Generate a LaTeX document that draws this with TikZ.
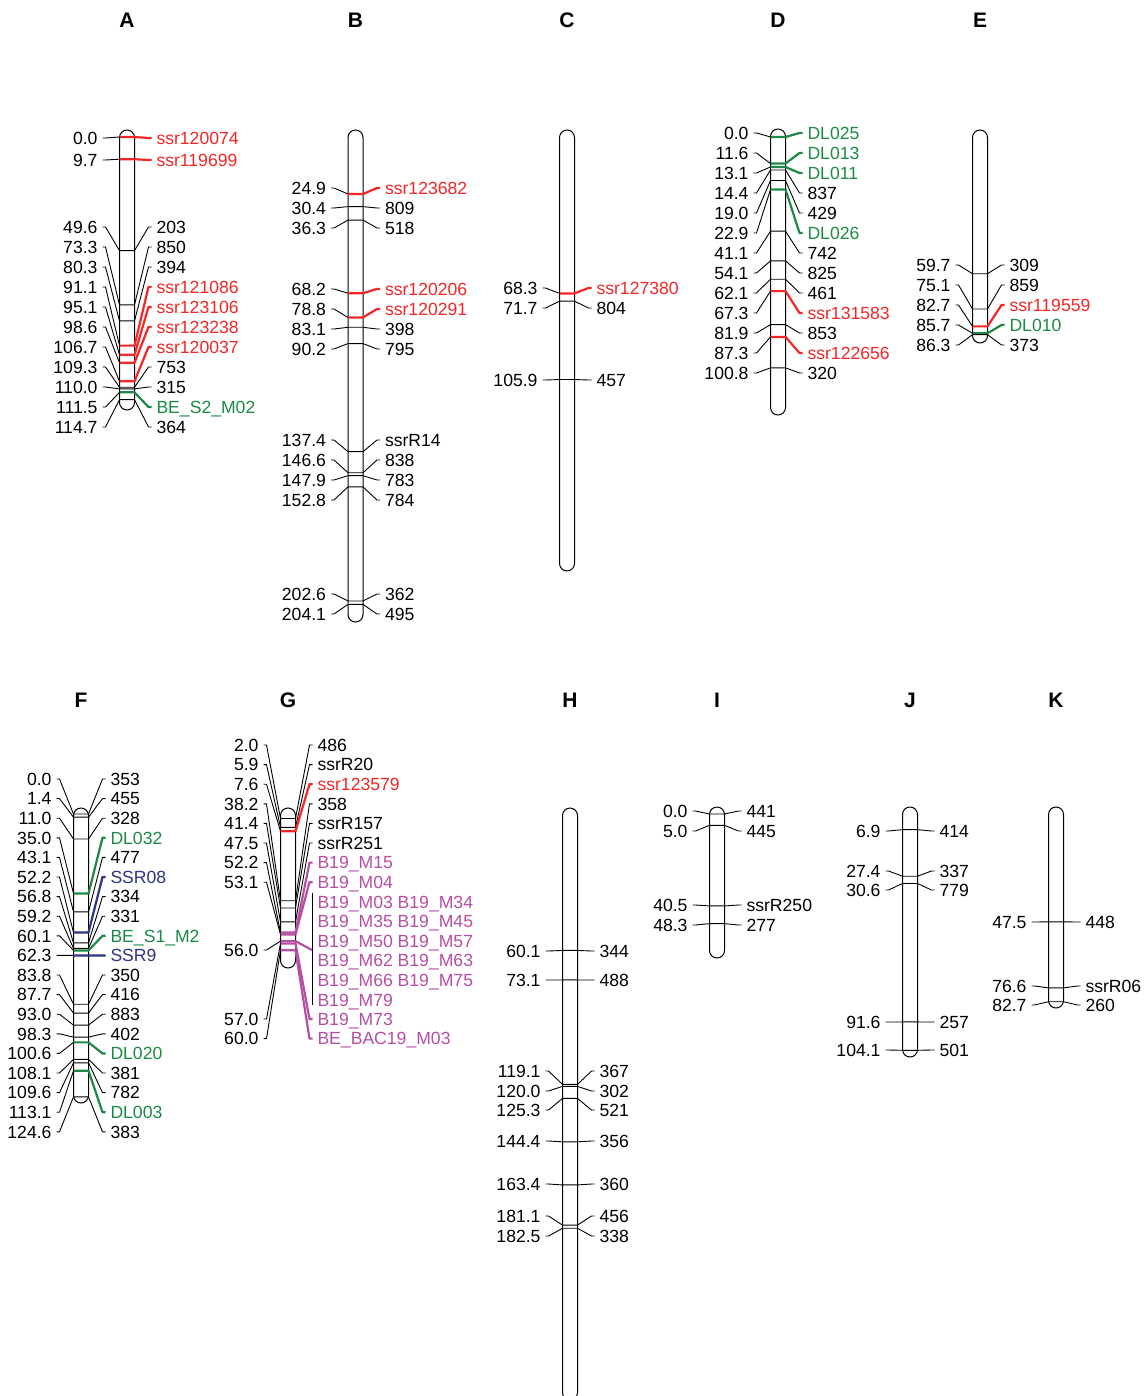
\documentclass[tikz,border=0pt]{standalone}
\usepackage{fontspec}
\setmainfont{Liberation Sans}
\usepackage{tikz}
\definecolor{mapred}{HTML}{F42626}
\definecolor{mapgreen}{HTML}{1C8A45}
\definecolor{mapnavy}{HTML}{2E3488}
\definecolor{mappink}{HTML}{B64FA4}

\newcommand{\lblfont}{\fontsize{17.6}{20}\selectfont}

% chromosome body and its letter: name, centre x, top, bottom
\newcommand{\chrom}[4]{%
  \node[chrombar, minimum height={#4-#3}] (#1) at (#2,{(#3+#4)/2}) {};
  \node[ttl] (t#1) at (#2,\yt) {#1};
}

% one locus: chromosome, index, cM, label y, name, colour key
\newcommand{\locus}[6]{%
  \coordinate (#1-m#2) at (\cx,{\yz+\sc*#3});
  \node[poslbl] (#1-p#2) at (\cx-24.5,#4) {#3};
  \node[namelbl, tk/.expanded=#6] (#1-n#2) at (\cx+24.5,#4) {#5};
  \draw[conn] (#1-p#2.east) -- ++(3,0) -- ([xshift=-7.5pt]#1-m#2);
  \draw[mk/.expanded=#6] ([xshift=-7.5pt]#1-m#2) -- ([xshift=7.5pt]#1-m#2) -- ([xshift=-3pt]#1-n#2.west) -- (#1-n#2.west);
}

\begin{document}
\begin{tikzpicture}[x=1pt, y=-1pt,
  chrombar/.style={draw, fill=white, line width=1pt, minimum width=15pt, inner sep=0pt, rounded corners=7.5pt},
  ttl/.style={font=\fontsize{21}{24}\selectfont\bfseries, inner sep=0pt, text height=15pt, text depth=0pt},
  poslbl/.style={anchor=east, font=\lblfont, inner sep=0pt, outer xsep=5pt, outer ysep=0pt, text height=12.6pt, text depth=0pt},
  namelbl/.style={anchor=west, font=\lblfont, inner sep=0pt, outer xsep=5pt, outer ysep=0pt, text height=12.6pt, text depth=0pt},
  conn/.style={draw=black, line width=0.9pt, line join=round},
  mblk/.style={draw=black, line width=0.9pt, line join=round},
  mred/.style={draw=mapred, line width=2.2pt, line join=round},
  mgrn/.style={draw=mapgreen, line width=2.2pt, line join=round},
  mnav/.style={draw=mapnavy, line width=2.2pt, line join=round},
  mpnk/.style={draw=mappink, line width=2.2pt, line join=round},
  tblk/.style={text=black}, tred/.style={text=mapred}, tgrn/.style={text=mapgreen},
  tnav/.style={text=mapnavy}, tpnk/.style={text=mappink},
  mk/.style={m#1}, tk/.style={t#1}
]
  \path[use as bounding box, fill=white] (0,0) rectangle (1146,1396);

  % top row
  \def\yz{137}\def\sc{2.29}\def\yt{20}

  \def\cx{127}
  \chrom{A}{127}{130}{410}
  \foreach \cmv/\lyv/\nmv/\kv [count=\i] in {0.0/138/ssr120074/red, 9.7/160/ssr119699/red,
    49.6/227/203/blk, 73.3/247/850/blk, 80.3/267/394/blk, 91.1/287/ssr121086/red,
    95.1/307/ssr123106/red, 98.6/327/ssr123238/red, 106.7/347/ssr120037/red,
    109.3/367/753/blk, 110.0/387/315/blk, 111.5/407/BE\_S2\_M02/grn, 114.7/427/364/blk}
    {\locus{A}{\i}{\cmv}{\lyv}{\nmv}{\kv}}

  \def\cx{355.5}
  \chrom{B}{355.5}{130}{622}
  \foreach \cmv/\lyv/\nmv/\kv [count=\i] in {24.9/188/ssr123682/red, 30.4/208/809/blk,
    36.3/228/518/blk, 68.2/289/ssr120206/red, 78.8/309/ssr120291/red, 83.1/329/398/blk,
    90.2/349/795/blk, 137.4/440/ssrR14/blk, 146.6/460/838/blk, 147.9/480/783/blk,
    152.8/500/784/blk, 202.6/594/362/blk, 204.1/614/495/blk}
    {\locus{B}{\i}{\cmv}{\lyv}{\nmv}{\kv}}

  \def\cx{567}
  \chrom{C}{567}{130}{571}
  \foreach \cmv/\lyv/\nmv/\kv [count=\i] in {68.3/288/ssr127380/red, 71.7/308/804/blk,
    105.9/380/457/blk}
    {\locus{C}{\i}{\cmv}{\lyv}{\nmv}{\kv}}

  \def\cx{778}
  \chrom{D}{778}{129}{415}
  \foreach \cmv/\lyv/\nmv/\kv [count=\i] in {0.0/133/DL025/grn, 11.6/153/DL013/grn,
    13.1/173/DL011/grn, 14.4/193/837/blk, 19.0/213/429/blk, 22.9/233/DL026/grn,
    41.1/253/742/blk, 54.1/273/825/blk, 62.1/293/461/blk, 67.3/313/ssr131583/red,
    81.9/333/853/blk, 87.3/353/ssr122656/red, 100.8/373/320/blk}
    {\locus{D}{\i}{\cmv}{\lyv}{\nmv}{\kv}}

  \def\cx{980}
  \chrom{E}{980}{130}{343}
  \foreach \cmv/\lyv/\nmv/\kv [count=\i] in {59.7/265/309/blk, 75.1/285/859/blk,
    82.7/305/ssr119559/red, 85.7/325/DL010/grn, 86.3/345/373/blk}
    {\locus{E}{\i}{\cmv}{\lyv}{\nmv}{\kv}}

  % bottom row
  \def\yz{814}\def\sc{2.27}\def\yt{700}

  \def\cx{81}
  \chrom{F}{81}{808}{1103}
  \foreach \cmv/\lyv/\nmv/\kv [count=\i] in {0.0/779/353/blk, 1.4/798.6/455/blk,
    11.0/818.2/328/blk, 35.0/837.8/DL032/grn, 43.1/857.4/477/blk, 52.2/877/SSR08/nav,
    56.8/896.6/334/blk, 59.2/916.2/331/blk, 60.1/935.8/BE\_S1\_M2/grn, 62.3/955.4/SSR9/nav,
    83.8/975/350/blk, 87.7/994.6/416/blk, 93.0/1014.2/883/blk, 98.3/1033.8/402/blk,
    100.6/1053.4/DL020/grn, 108.1/1073/381/blk, 109.6/1092.6/782/blk,
    113.1/1112.2/DL003/grn, 124.6/1131.8/383/blk}
    {\locus{F}{\i}{\cmv}{\lyv}{\nmv}{\kv}}

  \def\cx{288}
  \chrom{G}{288}{808}{968}
  \foreach \cmv/\lyv/\nmv/\kv [count=\i] in {2.0/745/486/blk, 5.9/764.6/ssrR20/blk,
    7.6/784.2/ssr123579/red, 38.2/803.8/358/blk, 41.4/823.4/ssrR157/blk,
    47.5/843/ssrR251/blk, 52.2/862.6/B19\_M15/pnk, 53.1/882.2/B19\_M04/pnk,
    57.0/1019/B19\_M73/pnk, 60.0/1038.6/BE\_BAC19\_M03/pnk}
    {\locus{G}{\i}{\cmv}{\lyv}{\nmv}{\kv}}
  % the 56.0 cluster
  \coordinate (G-m0) at (\cx,{\yz+\sc*56.0});
  \node[poslbl] (G-p0) at (\cx-24.5,950) {56.0};
  \draw[conn] (G-p0.east) -- ++(3,0) -- ([xshift=-7.5pt]G-m0);
  \coordinate (G-br) at (\cx+24,950);
  \coordinate (G-bt) at (\cx+24,893);
  \coordinate (G-bb) at (\cx+24,1005);
  \draw[conn] (G-bt) -- (G-bb);
  \draw[mpnk] ([xshift=-7.5pt]G-m0) -- ([xshift=7.5pt]G-m0) -- (G-br);
  \foreach \nmv/\lyv [count=\i] in {B19\_M03 B19\_M34/901.8, B19\_M35 B19\_M45/921.4,
    B19\_M50 B19\_M57/941, B19\_M62 B19\_M63/960.6, B19\_M66 B19\_M75/980.2, B19\_M79/999.8}
    {\node[namelbl, tpnk] (G-g\i) at (\cx+24.5,\lyv) {\nmv};}

  \def\cx{570}
  \chrom{H}{570}{808}{1400}
  \foreach \cmv/\lyv/\nmv/\kv [count=\i] in {60.1/951/344/blk, 73.1/980/488/blk,
    119.1/1071/367/blk, 120.0/1091/302/blk, 125.3/1110/521/blk, 144.4/1141/356/blk,
    163.4/1184/360/blk, 181.1/1216/456/blk, 182.5/1236/338/blk}
    {\locus{H}{\i}{\cmv}{\lyv}{\nmv}{\kv}}

  \def\cx{717}
  \chrom{I}{717}{807}{958}
  \foreach \cmv/\lyv/\nmv/\kv [count=\i] in {0.0/811/441/blk, 5.0/831/445/blk,
    40.5/905/ssrR250/blk, 48.3/925/277/blk}
    {\locus{I}{\i}{\cmv}{\lyv}{\nmv}{\kv}}

  \def\cx{910}
  \chrom{J}{910}{807}{1057}
  \foreach \cmv/\lyv/\nmv/\kv [count=\i] in {6.9/831/414/blk, 27.4/871/337/blk,
    30.6/890/779/blk, 91.6/1022/257/blk, 104.1/1050/501/blk}
    {\locus{J}{\i}{\cmv}{\lyv}{\nmv}{\kv}}

  \def\cx{1056}
  \chrom{K}{1056}{807}{1008}
  \foreach \cmv/\lyv/\nmv/\kv [count=\i] in {47.5/922/448/blk, 76.6/986/ssrR06/blk,
    82.7/1005/260/blk}
    {\locus{K}{\i}{\cmv}{\lyv}{\nmv}{\kv}}
\end{tikzpicture}
\end{document}
